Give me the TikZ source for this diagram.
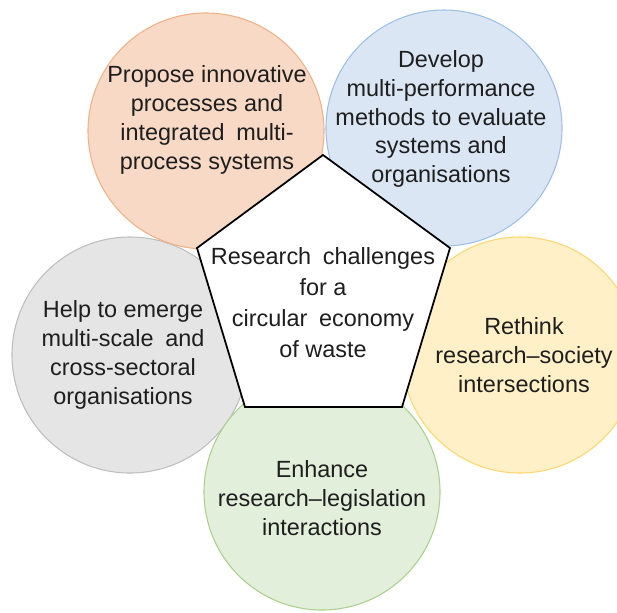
\documentclass[tikz,border=0pt]{standalone}
\usepackage{fontspec}
\setmainfont{Liberation Sans}
\usepackage{tikz}

\definecolor{peachfill}{RGB}{248,217,198}
\definecolor{peachline}{RGB}{241,176,134}
\definecolor{skyfill}{RGB}{218,230,244}
\definecolor{skyline}{RGB}{156,192,230}
\definecolor{sandfill}{RGB}{255,240,200}
\definecolor{sandline}{RGB}{253,215,110}
\definecolor{leaffill}{RGB}{226,239,218}
\definecolor{leafline}{RGB}{170,208,142}
\definecolor{ashfill}{RGB}{229,229,229}
\definecolor{ashline}{RGB}{190,190,190}
\definecolor{inktext}{RGB}{30,30,30}

\begin{document}
\begin{tikzpicture}[x=0.03cm, y=-0.03cm,
  bubble/.style={circle, draw, line width=0.9pt, minimum size=7.08cm, inner sep=0pt},
  caption/.style={align=center, text=inktext, font=\fontsize{20}{24.6}\selectfont},
  hub/.style={draw=black, fill=white, line width=1.5pt, line join=miter}]
\useasboundingbox (0,0) rectangle (617,612);
% five challenge circles
\node[bubble, fill=ashfill, draw=ashline] (help) at (130,355) {};
\node[bubble, fill=sandfill, draw=sandline] (rethink) at (520,355) {};
\node[bubble, fill=leaffill, draw=leafline] (enhance) at (322,492) {};
\node[bubble, fill=peachfill, draw=peachline] (propose) at (206,131) {};
\node[bubble, fill=skyfill, draw=skyline] (develop) at (444,128) {};
% central pentagon
\draw[hub] (323,155) -- (450,248) -- (402,407) -- (245,407) -- (197,248) -- cycle;
\node[caption, font=\fontsize{20}{26.5}\selectfont] (core) at (323,303)
  {Research\enspace challenges\\for a\\circular\enspace economy\\of waste};
% circle texts
\node[caption] (proposetext) at (207,120) {Propose innovative\\processes and\\integrated\enspace multi-\\process systems};
\node[caption] (developtext) at (441,119) {Develop\\multi-performance\\methods to evaluate\\systems and\\organisations};
\node[caption] (helptext) at (123,355) {Help to emerge\\multi-scale\enspace and\\cross-sectoral\\organisations};
\node[caption] (rethinktext) at (524,355) {Rethink\\research--society\\intersections};
\node[caption] (enhancetext) at (322,498) {Enhance\\research--legislation\\interactions};
\end{tikzpicture}
\end{document}
